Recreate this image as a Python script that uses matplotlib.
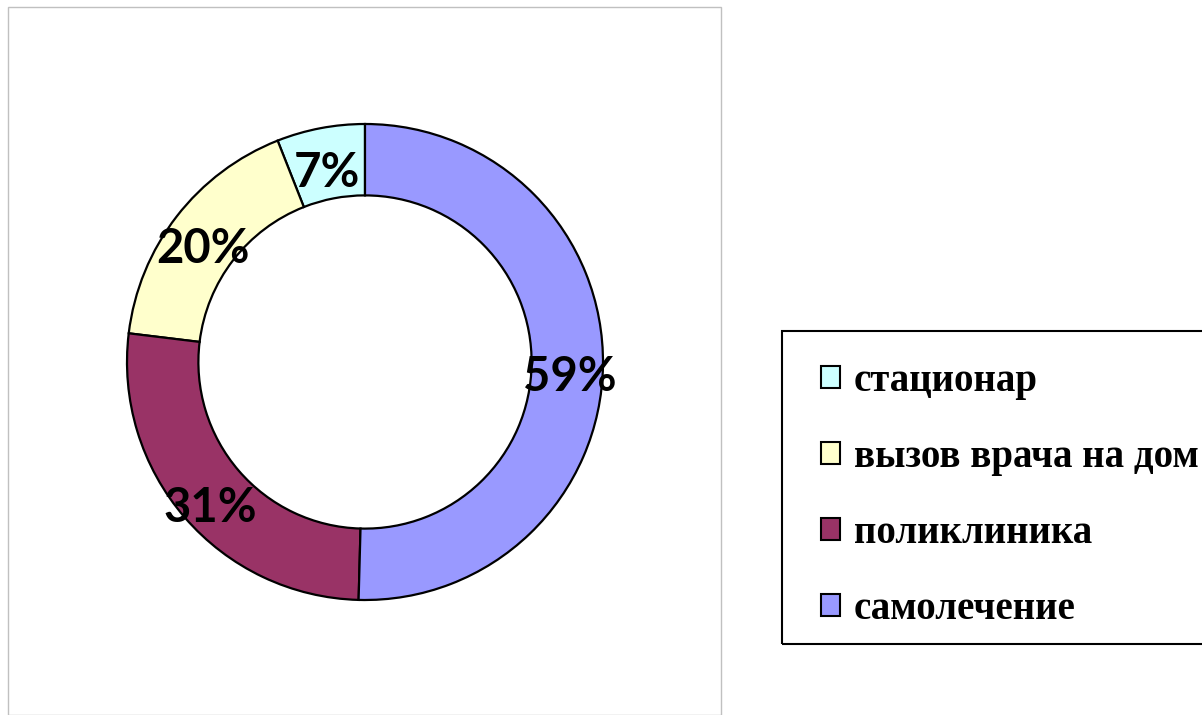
import matplotlib
matplotlib.use("Agg")
import matplotlib.pyplot as plt
from matplotlib.patches import Rectangle
import numpy as np

# data (legend order)
labels = ['стационар', 'вызов врача на дом', 'поликлиника', 'самолечение']
values = [7, 20, 31, 59]
pct_text = ['7%', '20%', '31%', '59%']
colors = ['#CCFFFF', '#FFFFCC', '#993366', '#9999FF']

W, H = 1202, 715
fig = plt.figure(figsize=(W / 100, H / 100), dpi=100)

# light grey chart-area frame
fig.patches.append(Rectangle((8 / W, 0), 713 / W, (H - 7) / H, transform=fig.transFigure,
                             fill=False, edgecolor='#C0C0C0', linewidth=1))
# legend frame
fig.patches.append(Rectangle((782 / W, (H - 644) / H), 440 / W, 313 / H, transform=fig.transFigure,
                             fill=False, edgecolor='black', linewidth=1.5))

cx, cy, r = 365, 362, 238
ax = fig.add_axes([(cx - r) / W, (H - cy - r) / H, 2 * r / W, 2 * r / H])
wedges, _ = ax.pie(values, colors=colors, startangle=90, counterclock=True,
                   radius=1.0, wedgeprops=dict(width=0.30, edgecolor='black', linewidth=1.6))
ax.set_xlim(-1, 1)
ax.set_ylim(-1, 1)
ax.set_aspect('equal')
ax.axis('off')

start = 90.0
total = sum(values)
for v, t in zip(values, pct_text):
    ang = np.deg2rad(start + 360 * v / total / 2)
    start += 360 * v / total
    ax.text(0.86 * np.cos(ang), 0.86 * np.sin(ang) - 0.05, t, ha='center', va='center',
            fontsize=34, fontweight='bold', family='Lato')

leg = fig.legend(wedges, labels, loc='upper left', bbox_to_anchor=(782 / W, 1 - 324 / H),
                 frameon=False, borderaxespad=0, borderpad=1.0,
                 labelspacing=1.0, handlelength=0.5, handleheight=0.5, handletextpad=0.35,
                 prop=dict(family='Liberation Serif', weight='bold', size=28))
for h in leg.legend_handles:
    h.set_linewidth(1.5)

fig.savefig('out.png', dpi=100)
